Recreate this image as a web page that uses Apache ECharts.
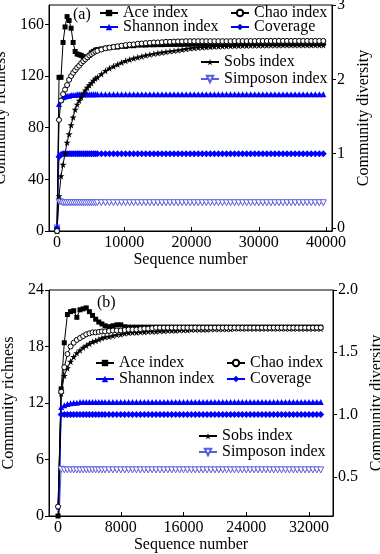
<!DOCTYPE html>
<html><head><meta charset="utf-8">
<script src="https://cdn.jsdelivr.net/npm/echarts@6/dist/echarts.min.js"></script>
<style>html,body{margin:0;padding:0;background:#fff}#c{width:380px;height:554px}</style>
</head><body><div id="c"></div>
<script>
// ---------- Panel (a) ----------
const xA = [0,300,600,900,1200,1500,1800,2100,2400,2700,
3000,3300,3600,3900,4200,4500,4800,5100,5400,5700,
6000,6600,7200,7800,8400,9000,9600,10200,10800,11400,
12000,12600,13200,13800,14400,15000,15600,16200,16800,17400,
18000,18600,19200,19800,20400,21000,21600,22200,22800,23400,
24000,24600,25200,25800,26400,27000,27600,28200,28800,29400,
30000,30600,31200,31800,32400,33000,33600,34200,34800,35400,
36000,36600,37200,37800,38400,39000,39600];
const aceA = [0,119,119,146,158,166,163,157,146,139,
137,136.5,136,135,134.5,134.5,136,138,139,140,
140.5,141,141.5,142,142.5,142.5,143,143,143.5,143.5,
144,144,144,144.2,144.2,144.3,144.3,144.4,144.4,144.5,
144.5,144.5,144.6,144.6,144.7,144.7,144.8,144.8,144.8,144.9,
144.9,145,145,145,145,145.1,145.1,145.1,145.2,145.2,
145.2,145.2,145.3,145.3,145.3,145.3,145.4,145.4,145.4,145.4,
145.5,145.5,145.5,145.5,145.5,145.5,145.5];
const chaoA = [0,86,101,106,109.5,113,117,120,122.5,124.5,
126.5,128,130,131.5,133,134.5,136,137,138,139,
139.5,140.5,141.5,142,142.5,143,143.5,144,144.3,144.5,
145,145.2,145.5,145.7,146,146,146.2,146.5,146.5,146.7,
146.8,146.8,147,147,147,147,147,147,147,147,
147,147,147,147,147.1,147.1,147.1,147.1,147.1,147.1,
147.2,147.2,147.2,147.2,147.2,147.2,147.2,147.2,147.2,147.2,
147.2,147.2,147.2,147.2,147.2,147.2,147.2];
const sobsA = [0,27,42.5,51.5,60,68.5,75,82,88,94,
98,101,103.5,106.5,109,111,113,114.5,116.5,118,
119,121.5,124,126,127.5,129,130.5,131.8,132.8,133.7,
134.5,135.2,136,136.7,137.3,137.8,138.3,138.8,139.2,139.6,
140,140.5,141,141.5,141.8,142,142.2,142.4,142.6,142.8,
143,143.1,143.2,143.3,143.4,143.5,143.6,143.6,143.7,143.7,
143.8,143.8,143.8,143.9,143.9,143.9,144,144,144,144,
144,144,144,144,144,144,144];
const shannonA = [0,1.67,1.73,1.76,1.77,1.78,1.78,1.79,1.79,1.79,
1.8,1.8,1.8,1.8,1.8,1.8,1.8,1.8,1.8,1.8,
1.8,1.8,1.8,1.8,1.8,1.8,1.8,1.8,1.8,1.8,
1.8,1.8,1.8,1.8,1.8,1.8,1.8,1.8,1.8,1.8,
1.8,1.8,1.8,1.8,1.8,1.8,1.8,1.8,1.8,1.8,
1.8,1.8,1.8,1.8,1.8,1.8,1.8,1.8,1.8,1.8,
1.8,1.8,1.8,1.8,1.8,1.8,1.8,1.8,1.8,1.8,
1.8,1.8,1.8,1.8,1.8,1.8,1.8];
const coverageA = [0,0.96,0.99,1,1,1,1,1,1,1,
1,1,1,1,1,1,1,1,1,1,
1,1,1,1,1,1,1,1,1,1,
1,1,1,1,1,1,1,1,1,1,
1,1,1,1,1,1,1,1,1,1,
1,1,1,1,1,1,1,1,1,1,
1,1,1,1,1,1,1,1,1,1,
1,1,1,1,1,1,1];
const simpsonA = [0,0.36,0.35,0.34,0.34,0.34,0.34,0.34,0.34,0.34,
0.34,0.34,0.34,0.34,0.34,0.34,0.34,0.34,0.34,0.34,
0.34,0.34,0.34,0.34,0.34,0.34,0.34,0.34,0.34,0.34,
0.34,0.34,0.34,0.34,0.34,0.34,0.34,0.34,0.34,0.34,
0.34,0.34,0.34,0.34,0.34,0.34,0.34,0.34,0.34,0.34,
0.34,0.34,0.34,0.34,0.34,0.34,0.34,0.34,0.34,0.34,
0.34,0.34,0.34,0.34,0.34,0.34,0.34,0.34,0.34,0.34,
0.34,0.34,0.34,0.34,0.34,0.34,0.34];
const xTicksA = [0,10000,20000,30000,40000];
const yLeftTicksA = [0,40,80,120,160];
const yRightTicksA = [0,1,2,3];

// ---------- Panel (b) ----------
const xB = [0,400,800,1200,1600,2000,2400,2800,3200,3600,
4000,4400,4800,5200,5600,6000,6500,7000,7500,8000,
8500,9000,9500,10000,10500,11000,11500,12000,12500,13000,
13500,14000,14500,15000,15500,16000,16500,17000,17500,18000,
18500,19000,19500,20000,20500,21000,21500,22000,22500,23000,
23500,24000,24500,25000,25500,26000,26500,27000,27500,28000,
28500,29000,29500,30000,30500,31000,31500,32000,32500,33000,
33500];
const aceB = [0,13.5,18.4,21.4,21.7,21.8,21.1,21.9,22,22.1,
21.7,21.3,20.9,20.6,20.4,20.2,20.1,20.2,20.3,20.3,
20.1,20.05,20.05,20.05,20.05,20.05,20.05,20.05,20.05,20.05,
20.05,20.05,20.05,20.05,20.05,20.05,20.05,20.05,20.05,20.05,
20.05,20.05,20.05,20.05,20.05,20.05,20.05,20.05,20.05,20.05,
20.05,20.05,20.05,20.05,20.05,20.05,20.05,20.05,20.05,20.05,
20.05,20.05,20.05,20.05,20.05,20.05,20.05,20.05,20.05,20.05,
20.05];
const chaoB = [1,13.2,15.8,17.2,18,18.4,18.7,18.9,19.1,19.3,
19.4,19.5,19.5,19.55,19.6,19.6,19.65,19.7,19.7,19.7,
19.75,19.8,19.8,19.8,19.85,19.9,19.9,19.95,20,20,
20,20,20,20,20,20,20,20,20,20,
20,20,20,20,20,20,20,20,20,20,
20,20,20,20,20,20,20,20,20,20,
20,20,20,20,20,20,20,20,20,20,
20];
const sobsB = [1,13,14.9,15.7,16.4,16.9,17.3,17.6,17.9,18.1,
18.3,18.5,18.6,18.75,18.9,19,19.05,19.15,19.25,19.3,
19.4,19.45,19.5,19.5,19.55,19.55,19.6,19.6,19.6,19.65,
19.65,19.7,19.7,19.7,19.75,19.75,19.75,19.8,19.8,19.8,
19.8,19.8,19.85,19.85,19.85,19.85,19.85,19.85,19.9,19.9,
19.9,19.9,19.9,19.9,19.9,19.9,19.9,19.9,19.9,19.9,
19.9,19.9,19.9,19.9,19.9,19.9,19.9,19.9,19.9,19.9,
19.9];
const shannonB = [0,1.06,1.075,1.085,1.09,1.095,1.095,1.1,1.1,1.1,
1.1,1.1,1.1,1.1,1.1,1.1,1.1,1.1,1.1,1.1,
1.1,1.1,1.1,1.1,1.1,1.1,1.1,1.1,1.1,1.1,
1.1,1.1,1.1,1.1,1.1,1.1,1.1,1.1,1.1,1.1,
1.1,1.1,1.1,1.1,1.1,1.1,1.1,1.1,1.1,1.1,
1.1,1.1,1.1,1.1,1.1,1.1,1.1,1.1,1.1,1.1,
1.1,1.1,1.1,1.1,1.1,1.1,1.1,1.1,1.1,1.1,
1.1];
const coverageB = [0,1,1,1,1,1,1,1,1,1,
1,1,1,1,1,1,1,1,1,1,
1,1,1,1,1,1,1,1,1,1,
1,1,1,1,1,1,1,1,1,1,
1,1,1,1,1,1,1,1,1,1,
1,1,1,1,1,1,1,1,1,1,
1,1,1,1,1,1,1,1,1,1,
1];
const simpsonB = [0,0.56,0.555,0.555,0.555,0.555,0.555,0.555,0.555,0.555,
0.555,0.555,0.555,0.555,0.555,0.555,0.555,0.555,0.555,0.555,
0.555,0.555,0.555,0.555,0.555,0.555,0.555,0.555,0.555,0.555,
0.555,0.555,0.555,0.555,0.555,0.555,0.555,0.555,0.555,0.555,
0.555,0.555,0.555,0.555,0.555,0.555,0.555,0.555,0.555,0.555,
0.555,0.555,0.555,0.555,0.555,0.555,0.555,0.555,0.555,0.555,
0.555,0.555,0.555,0.555,0.555,0.555,0.555,0.555,0.555,0.555,
0.555];
const xTicksB = [0,8000,16000,24000,32000];
const yLeftTicksB = [0,6,12,18,24];
const yRightTicksB = [0.5,1.0,1.5,2.0];

// ---------- styling ----------
const FONT = "'Liberation Serif','Times New Roman',serif";
const BLACK = '#000';
const BLUE = '#0000ff';
const LBLUE = '#5c5ce0';
const STAR = 'path://M50,0 L61,35 L98,35 L68,57 L79,91 L50,70 L21,91 L32,57 L2,35 L39,35 Z';
const txt = {fontFamily: FONT, fontSize: 16, color: BLACK};

const styles = {
  'Ace index': {sym: 'rect', c: BLACK, size: 5},
  'Chao index': {sym: 'circle', c: BLACK, fill: '#fff', bw: 1, size: 5},
  'Shannon index': {sym: 'triangle', c: BLUE, size: 6},
  'Coverage': {sym: 'diamond', c: BLUE, size: 7},
  'Sobs index': {sym: STAR, c: BLACK, size: 7},
  'Simposon index': {sym: 'triangle', c: LBLUE, fill: '#fff', bw: 1, size: 6, rot: 180}
};

function mk(name, xs, ys, xi, yi) {
  const s = styles[name];
  return {
    type: 'line', name, xAxisIndex: xi, yAxisIndex: yi,
    data: xs.map((x, i) => [x, ys[i]]),
    symbol: s.sym, symbolSize: s.size, symbolRotate: s.rot || 0,
    lineStyle: {width: 1, color: s.c},
    itemStyle: {color: s.fill || s.c, borderColor: s.c, borderWidth: s.bw || 0},
    emphasis: {disabled: true}, clip: true
  };
}

function xAx(gi, min, max, ticks) {
  return {
    gridIndex: gi, type: 'value', min, max,
    name: 'Sequence number', nameLocation: 'middle', nameGap: 21, nameTextStyle: txt,
    axisLine: {show: true, lineStyle: {color: BLACK, width: 1}},
    axisTick: {show: true, inside: true, length: 4, customValues: ticks, lineStyle: {color: BLACK}},
    axisLabel: Object.assign({customValues: ticks, margin: 4, formatter: v => String(v)}, txt),
    splitLine: {show: false}
  };
}
function yAx(gi, pos, min, max, ticks, name, gap, fmt) {
  return {
    gridIndex: gi, type: 'value', position: pos, min, max,
    name, nameLocation: 'middle', nameGap: gap, nameTextStyle: txt,
    axisLine: {show: true, onZero: false, lineStyle: {color: BLACK, width: 1}},
    axisTick: {show: true, inside: false, length: 4, customValues: ticks, lineStyle: {color: BLACK}},
    axisLabel: Object.assign({customValues: ticks, margin: 5, formatter: fmt}, txt),
    splitLine: {show: false}
  };
}
function leg(name, left, cy) {
  return {
    data: [name], left, top: cy - 8, orient: 'horizontal', padding: 0,
    itemWidth: 18, itemHeight: 8, itemGap: 0, selectedMode: false,
    textStyle: Object.assign({lineHeight: 16}, txt)
  };
}

const series = [];
const seriesOrder = [['Simposon index', simpsonA, simpsonB, 1, 3], ['Coverage', coverageA, coverageB, 1, 3],
  ['Shannon index', shannonA, shannonB, 1, 3], ['Sobs index', sobsA, sobsB, 0, 2],
  ['Ace index', aceA, aceB, 0, 2], ['Chao index', chaoA, chaoB, 0, 2]];
seriesOrder.forEach(([n, a, b, ya, yb]) => {
  series.push(mk(n, xA, a, 0, ya));
  series.push(mk(n, xB, b, 1, yb));
});

const chart = echarts.init(document.getElementById('c'), null, {renderer: 'canvas'});
chart.setOption({
  animation: false,
  backgroundColor: '#fff',
  grid: [
    {left: 49, right: 48, top: 5, height: 226, show: true, borderColor: BLACK, borderWidth: 1, backgroundColor: 'transparent', containLabel: false, outerBoundsMode: 'none'},
    {left: 49, right: 47, top: 290, height: 226, show: true, borderColor: BLACK, borderWidth: 1, backgroundColor: 'transparent', containLabel: false, outerBoundsMode: 'none'}
  ],
  xAxis: [xAx(0, -1190, 40890, xTicksA), xAx(1, -1150, 35060, xTicksB)],
  yAxis: [
    yAx(0, 'left', 0, 175, yLeftTicksA, 'Community richness', 29, v => String(v)),
    yAx(0, 'right', -0.04, 3, yRightTicksA, 'Community diversity', 24, v => String(v)),
    yAx(1, 'left', 0, 24, yLeftTicksB, 'Community richness', 26, v => String(v)),
    yAx(1, 'right', 0.185, 2.0, yRightTicksB, 'Community diversity', 24, v => v.toFixed(1))
  ],
  legend: [
    leg('Ace index', 99, 13), leg('Shannon index', 99, 27),
    leg('Chao index', 230, 13), leg('Coverage', 230, 27),
    leg('Sobs index', 200, 62), leg('Simposon index', 200, 79),
    leg('Ace index', 95, 363), leg('Shannon index', 95, 379),
    leg('Chao index', 226, 363), leg('Coverage', 226, 379),
    leg('Sobs index', 198, 436), leg('Simposon index', 198, 452)
  ],
  graphic: [
    {type: 'text', left: 73, top: 7, style: {text: '(a)', font: '16px ' + FONT, fill: BLACK}},
    {type: 'text', left: 97, top: 295, style: {text: '(b)', font: '16px ' + FONT, fill: BLACK}}
  ],
  series
});
</script></body></html>
